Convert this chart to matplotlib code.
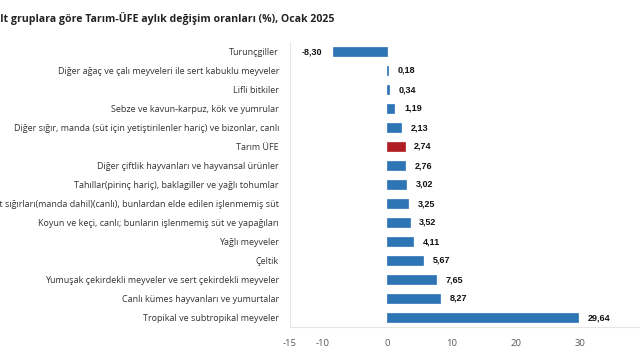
import matplotlib
matplotlib.use("Agg")
import matplotlib.pyplot as plt

categories = [
    "Turunçgiller",
    "Diğer ağaç ve çalı meyveleri ile sert kabuklu meyveler",
    "Lifli bitkiler",
    "Sebze ve kavun-karpuz, kök ve yumrular",
    "Diğer sığır, manda (süt için yetiştirilenler hariç) ve bizonlar, canlı",
    "Tarım ÜFE",
    "Diğer çiftlik hayvanları ve hayvansal ürünler",
    "Tahıllar(pirinç hariç), baklagiller ve yağlı tohumlar",
    "Süt sığırları(manda dahil)(canlı), bunlardan elde edilen işlenmemiş süt",
    "Koyun ve keçi, canlı; bunların işlenmemiş süt ve yapağıları",
    "Yağlı meyveler",
    "Çeltik",
    "Yumuşak çekirdekli meyveler ve sert çekirdekli meyveler",
    "Canlı kümes hayvanları ve yumurtalar",
    "Tropikal ve subtropikal meyveler",
]
values = [-8.30, 0.18, 0.34, 1.19, 2.13, 2.74, 2.76, 3.02, 3.25, 3.52, 4.11, 5.67, 7.65, 8.27, 29.64]
value_labels = ["-8,30", "0,18", "0,34", "1,19", "2,13", "2,74", "2,76", "3,02", "3,25", "3,52", "4,11", "5,67", "7,65", "8,27", "29,64"]
highlight = "Tarım ÜFE"
xticks = [-15, -10, 0, 10, 20, 30, 40]
title = "Alt gruplara göre Tarım-ÜFE aylık değişim oranları (%), Ocak 2025"

blue = "#2E75B6"
red = "#B01E23"

fig = plt.figure(figsize=(6.4, 3.6), dpi=100)
ax = fig.add_axes([290/640, 1-327/360, (645-290)/640, (327-42)/360])

y = list(range(len(categories)))
colors = [red if c == highlight else blue for c in categories]
ax.barh(y, values, height=0.45, color=colors, edgecolor=colors, linewidth=0.5)
ax.set_ylim(len(categories)-0.5, -0.5)
ax.set_xlim(-15, 40)
ax.set_yticks(y)
ax.set_yticklabels(categories, fontsize=6.45, family="Open Sans", color="#333333")
ax.set_xticks(xticks)
ax.set_xticklabels([str(t) for t in xticks], fontsize=6.8, family="Open Sans", color="#595959")
ax.tick_params(axis="y", length=0, pad=8)
ax.tick_params(axis="x", length=0, pad=9)

for s in ["top", "right"]:
    ax.spines[s].set_visible(False)
ax.spines["left"].set_color("#E6E6E6")
ax.spines["bottom"].set_color("#E6E6E6")
ax.spines["left"].set_linewidth(0.8)
ax.spines["bottom"].set_linewidth(0.8)

for yi, v, lab in zip(y, values, value_labels):
    if v >= 0:
        ax.annotate(lab, (v, yi), xytext=(7, 0), textcoords="offset points",
                    ha="left", va="center", fontsize=6.5, fontweight="bold",
                    family="Liberation Sans", color="#111111")
    else:
        ax.annotate(lab, (v, yi), xytext=(-8, 0), textcoords="offset points",
                    ha="right", va="center", fontsize=6.5, fontweight="bold",
                    family="Liberation Sans", color="#111111")

fig.text(-7/640, 1-18/360, title, fontsize=7.6, fontweight="bold",
         family="Open Sans", color="#222222", ha="left", va="center")

fig.savefig("out.png", dpi=100)
